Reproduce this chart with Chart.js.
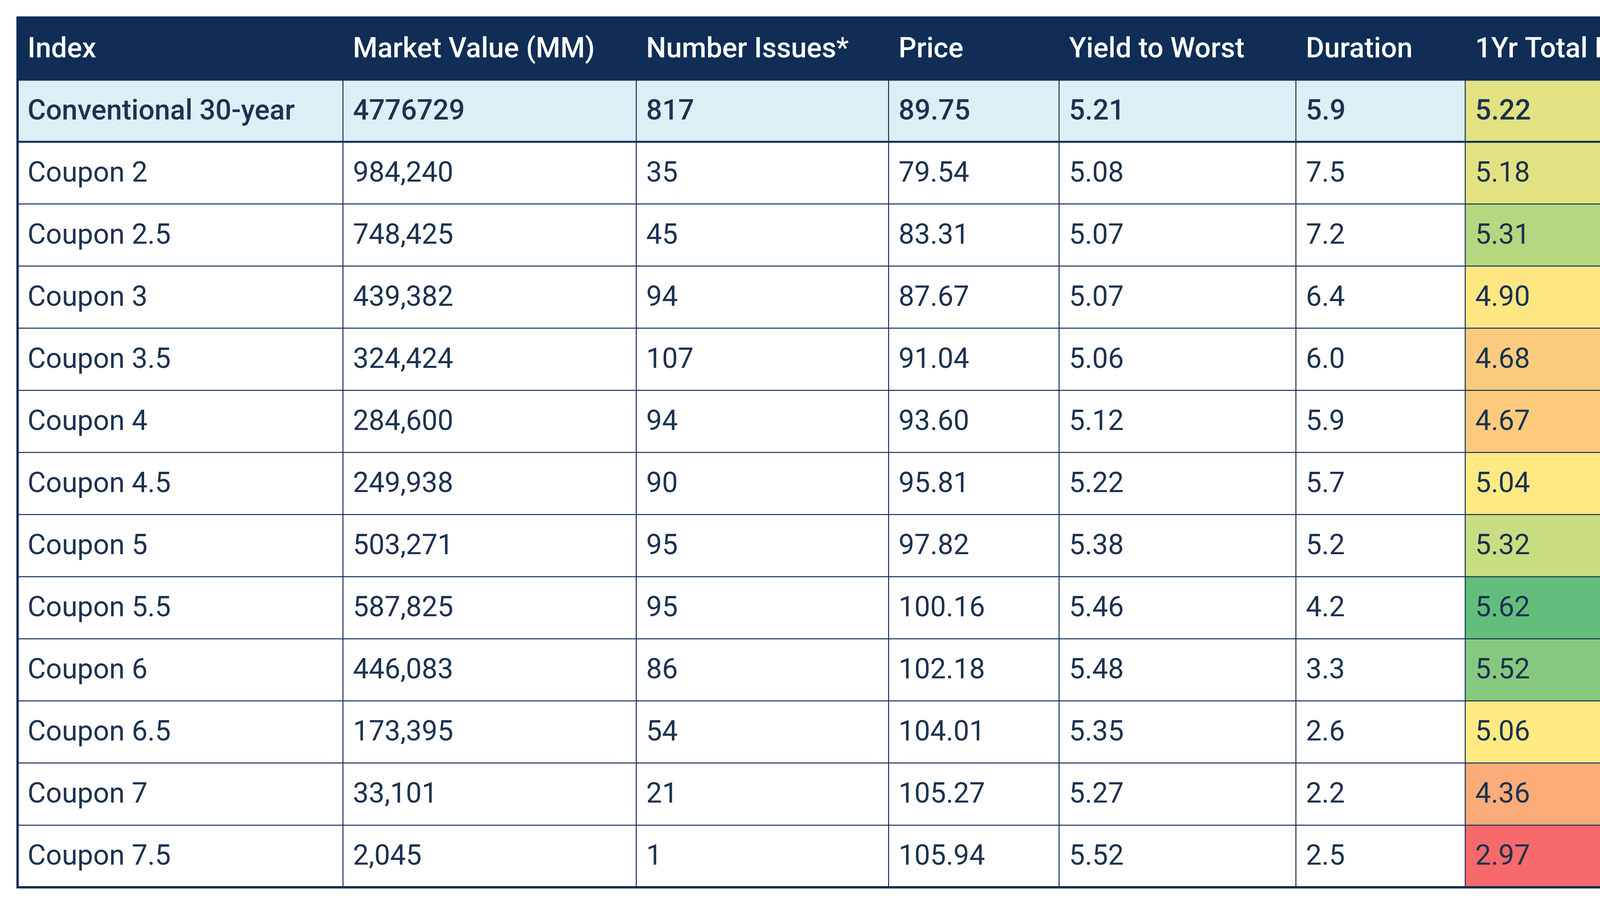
<!DOCTYPE html>
<html><head><meta charset="utf-8">
<script src="https://cdn.jsdelivr.net/npm/chart.js@4"></script>
<style>html,body{margin:0;padding:0;background:#fff;overflow:hidden}canvas{display:block;width:4442px;height:2325px}</style>
</head><body><canvas id="c" width="4442" height="2325"></canvas>
<script>
const headers = ["Index","Market Value (MM)","Number Issues*","Price","Yield to Worst","Duration","1Yr Total Return"];
const indexNames = ["Conventional 30-year","Coupon 2","Coupon 2.5","Coupon 3","Coupon 3.5","Coupon 4","Coupon 4.5","Coupon 5","Coupon 5.5","Coupon 6","Coupon 6.5","Coupon 7","Coupon 7.5"];
const marketValue = ["4776729","984,240","748,425","439,382","324,424","284,600","249,938","503,271","587,825","446,083","173,395","33,101","2,045"];
const numberIssues = ["817","35","45","94","107","94","90","95","95","86","54","21","1"];
const price = ["89.75","79.54","83.31","87.67","91.04","93.60","95.81","97.82","100.16","102.18","104.01","105.27","105.94"];
const yieldToWorst = ["5.21","5.08","5.07","5.07","5.06","5.12","5.22","5.38","5.46","5.48","5.35","5.27","5.52"];
const duration = ["5.9","7.5","7.2","6.4","6.0","5.9","5.7","5.2","4.2","3.3","2.6","2.2","2.5"];
const totalReturn = ["5.22","5.18","5.31","4.90","4.68","4.67","5.04","5.32","5.62","5.52","5.06","4.36","2.97"];
const returnColors = ["#e2e283","#e3e282","#b5d77f","#fee783","#fdcb7e","#fdca7e","#fee983","#c9dd82","#63be7b","#86c97e","#fee983","#fbac78","#f8696b"];
const colEdges = [0,294,559,787,941,1155,1308,1536];

const NAVY="#0f2d55", TXT="#1c3250";
const columns=[indexNames,marketValue,numberIssues,price,yieldToWorst,duration,totalReturn];
const rowKeys=["H"].concat(indexNames.map((_,i)=>"r"+i));
const datasets=[];
for(let c=0;c<7;c++){
  datasets.push({
    data: rowKeys.map((k,r)=>({y:k,x:[colEdges[c],colEdges[c+1]]})),
    backgroundColor: rowKeys.map((k,r)=> r===0?NAVY : (c===6?returnColors[r-1] : (r===1?"#ddeff5":"#ffffff"))),
    borderWidth:0, barPercentage:1, categoryPercentage:1, grouped:false
  });
}
const tablePlugin={id:'tbl',afterDatasetsDraw(ch){
  const ctx=ch.ctx,xs=ch.scales.x,ys=ch.scales.y;
  const top=ch.chartArea.top,bot=ch.chartArea.bottom;
  const rowH=(bot-top)/rowKeys.length;
  const L=xs.getPixelForValue(0),R=xs.getPixelForValue(1536);
  ctx.save();
  ctx.strokeStyle=NAVY;ctx.lineWidth=2.5;
  for(let r=1;r<rowKeys.length;r++){const y=top+r*rowH;ctx.beginPath();ctx.moveTo(L,y);ctx.lineTo(R,y);ctx.stroke();}
  for(let c=1;c<7;c++){const x=xs.getPixelForValue(colEdges[c]);ctx.beginPath();ctx.moveTo(x,top);ctx.lineTo(x,bot);ctx.stroke();}
  ctx.lineWidth=6;ctx.strokeRect(L,top,R-L,bot-top);
  ctx.lineWidth=5;ctx.strokeRect(L,top+rowH,R-L,rowH);
  ctx.textBaseline='middle';ctx.textAlign='left';
  rowKeys.forEach((k,r)=>{
    const y=ys.getPixelForValue(r)+4;
    for(let c=0;c<7;c++){
      const x=xs.getPixelForValue(colEdges[c]+9);
      let t,col=TXT,w="400";
      if(r===0){t=headers[c];col="#ffffff";w="500";}
      else{t=columns[c][r-1];if(r===1)w="500";}
      ctx.font=w+" 72px Roboto";ctx.fillStyle=col;ctx.fillText(t,x,y);
    }
  });
  ctx.restore();
}};
new Chart(document.getElementById('c'),{
  type:'bar',
  data:{labels:rowKeys,datasets},
  options:{indexAxis:'y',responsive:false,maintainAspectRatio:false,devicePixelRatio:1,animation:false,
    layout:{padding:{left:45,right:45,top:45,bottom:53}},
    plugins:{legend:{display:false},tooltip:{enabled:false}},
    scales:{x:{type:'linear',min:0,max:1536,display:false},y:{type:'category',display:false,offset:true}}},
  plugins:[tablePlugin]
});
</script></body></html>
